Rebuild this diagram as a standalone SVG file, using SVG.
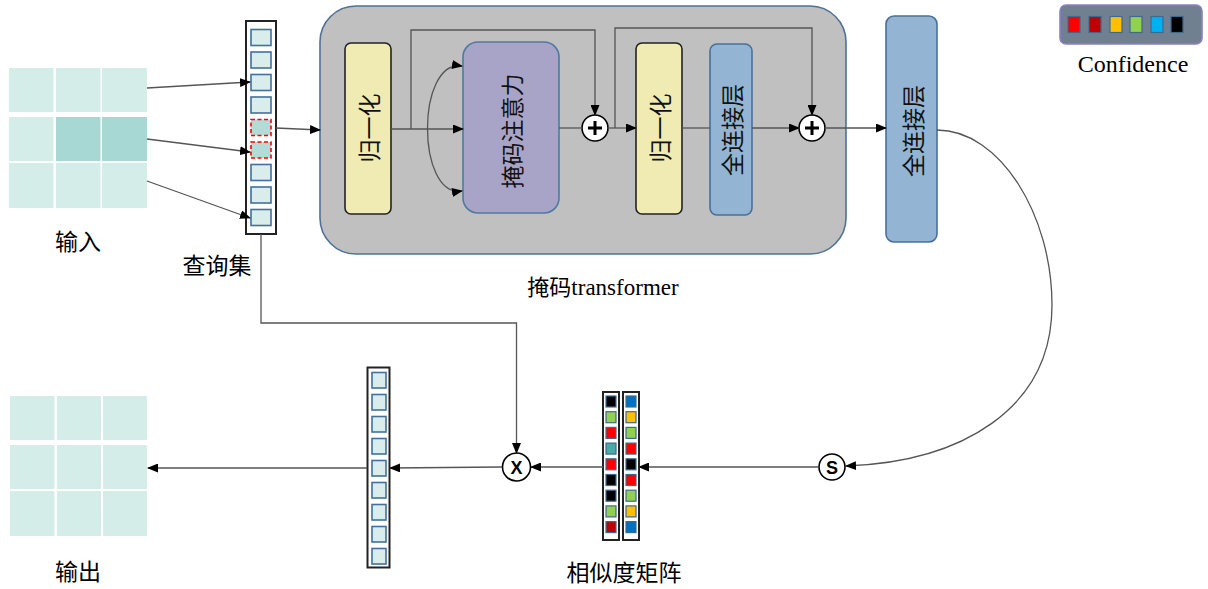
<svg xmlns="http://www.w3.org/2000/svg" width="1208" height="589" viewBox="0 0 1208 589">
<defs>
<marker id="ah" markerUnits="userSpaceOnUse" markerWidth="11" markerHeight="9" refX="10" refY="4.5" orient="auto-start-reverse" viewBox="0 0 11 9">
<path d="M0,0 L11,4.5 L0,9 z" fill="#000"/>
</marker>
<style>
.cell{fill:#d4ede9}
.cellD{fill:#a8d8d3}
.col{fill:#fff;stroke:#222;stroke-width:2}
.sq{fill:#d9eeec;stroke:#41719c;stroke-width:1.6}
.sqd{fill:#b3dcd7;stroke:#ff0000;stroke-width:1.6;stroke-dasharray:4 2.5}
.ln{fill:none;stroke:#555;stroke-width:1.3}
.arr{marker-end:url(#ah)}
.norm{fill:#efebb3;stroke:#222;stroke-width:1.6}
.fc{fill:#93b5d3;stroke:#4a7099;stroke-width:1.6}
.att{fill:#a8a4c8;stroke:#4f79a0;stroke-width:1.6}
.circ{fill:#fff;stroke:#000;stroke-width:1.6}
.plus{stroke:#000;stroke-width:3;fill:none}
.lbl{font-family:"Liberation Serif","Noto Sans CJK SC",serif;font-size:23px;fill:#000}
.vt{font-family:"Noto Sans CJK SC",sans-serif;font-size:23px;fill:#111;text-anchor:middle;dominant-baseline:central}
.ms{stroke:#3d6a8f;stroke-width:1.2}
</style>
</defs>

<g id="input">
<rect class="cell" x="9" y="68" width="44.5" height="44"/>
<rect class="cell" x="56" y="68" width="44.5" height="44"/>
<rect class="cell" x="102" y="68" width="45" height="44"/>
<rect class="cell" x="9" y="117" width="44.5" height="44"/>
<rect class="cellD" x="56" y="117" width="44.5" height="44"/>
<rect class="cellD" x="102" y="117" width="45" height="44"/>
<rect class="cell" x="9" y="163" width="44.5" height="45"/>
<rect class="cell" x="56" y="163" width="44.5" height="45"/>
<rect class="cell" x="102" y="163" width="45" height="45"/>
<text class="lbl" x="78" y="250" text-anchor="middle">输入</text>
</g>

<g id="query">
<rect class="col" x="246" y="21" width="30" height="213"/>
<rect class="sq" x="251" y="29.5" width="20" height="16"/>
<rect class="sq" x="251" y="52" width="20" height="16"/>
<rect class="sq" x="251" y="74.5" width="20" height="16"/>
<rect class="sq" x="251" y="97" width="20" height="16"/>
<rect class="sqd" x="251" y="119.5" width="20" height="16"/>
<rect class="sqd" x="251" y="142" width="20" height="16"/>
<rect class="sq" x="251" y="164.5" width="20" height="16"/>
<rect class="sq" x="251" y="187" width="20" height="16"/>
<rect class="sq" x="251" y="209.5" width="20" height="16"/>
<text class="lbl" x="217" y="274" text-anchor="middle">查询集</text>
</g>

<g id="transformer">
<rect x="320" y="6" width="526" height="248" rx="36" fill="#c0c0c0" stroke="#4f7196" stroke-width="1.6"/>
<text class="lbl" x="603" y="295" text-anchor="middle" font-size="24"><tspan font-size="22">掩码</tspan>transformer</text>
</g>

<g id="norm1">
<rect class="norm" x="345" y="43" width="46" height="171" rx="6"/>
<text class="vt" transform="translate(368,128) rotate(-90)">归一化</text>
</g>

<g id="attention">
<rect class="att" x="463" y="42" width="96" height="171" rx="15"/>
<text class="vt" transform="translate(511,131) rotate(-90)" font-size="24">掩码注意力</text>
</g>

<g id="add1">
<circle class="circ" cx="595" cy="128" r="13"/>
<path class="plus" d="M595,121 V135 M588,128 H602"/>
</g>

<g id="norm2">
<rect class="norm" x="636" y="43" width="46" height="171" rx="6"/>
<text class="vt" transform="translate(659,128) rotate(-90)">归一化</text>
</g>

<g id="fc1">
<rect class="fc" x="710" y="44" width="42" height="171" rx="7"/>
<text class="vt" transform="translate(731,130) rotate(-90)">全连接层</text>
</g>

<g id="add2">
<circle class="circ" cx="812" cy="128" r="13"/>
<path class="plus" d="M812,121 V135 M805,128 H819"/>
</g>

<g id="fc2">
<rect class="fc" x="886" y="16" width="51" height="226" rx="8"/>
<text class="vt" transform="translate(911.5,131) rotate(-90)">全连接层</text>
</g>

<g id="legend">
<rect x="1060" y="5" width="142" height="39" rx="6" fill="#708090" stroke="#8b80c4" stroke-width="1.6"/>
<rect class="ms" x="1068" y="16.5" width="12" height="16" fill="#ff0000"/>
<rect class="ms" x="1089" y="16.5" width="12" height="16" fill="#c00000"/>
<rect class="ms" x="1110" y="16.5" width="12" height="16" fill="#ffc000"/>
<rect class="ms" x="1130" y="16.5" width="12" height="16" fill="#92d050"/>
<rect class="ms" x="1151" y="16.5" width="12" height="16" fill="#00b0f0"/>
<rect class="ms" x="1171" y="16.5" width="12" height="16" fill="#000000"/>
<text x="1133" y="72" text-anchor="middle" font-family="Liberation Serif, serif" font-size="24">Confidence</text>
</g>

<g id="scircle">
<circle class="circ" cx="832" cy="467" r="13"/>
<text x="832" y="473.5" text-anchor="middle" font-family="Liberation Sans, sans-serif" font-weight="bold" font-size="18">S</text>
</g>

<g id="similarity">
<rect class="col" x="603" y="392" width="16" height="148" stroke-width="1.8"/>
<rect class="col" x="623" y="392" width="16" height="148" stroke-width="1.8"/>
<rect class="ms" x="606" y="396" width="10" height="11" fill="#000000"/>
<rect class="ms" x="606" y="411.7" width="10" height="11" fill="#92d050"/>
<rect class="ms" x="606" y="427.4" width="10" height="11" fill="#ff0000"/>
<rect class="ms" x="606" y="443.1" width="10" height="11" fill="#4aaba4"/>
<rect class="ms" x="606" y="458.8" width="10" height="11" fill="#ff0000"/>
<rect class="ms" x="606" y="474.5" width="10" height="11" fill="#000000"/>
<rect class="ms" x="606" y="490.2" width="10" height="11" fill="#000000"/>
<rect class="ms" x="606" y="505.9" width="10" height="11" fill="#92d050"/>
<rect class="ms" x="606" y="521.6" width="10" height="11" fill="#c00000"/>
<rect class="ms" x="626" y="396" width="10" height="11" fill="#0070c0"/>
<rect class="ms" x="626" y="411.7" width="10" height="11" fill="#ffc000"/>
<rect class="ms" x="626" y="427.4" width="10" height="11" fill="#92d050"/>
<rect class="ms" x="626" y="443.1" width="10" height="11" fill="#ff0000"/>
<rect class="ms" x="626" y="458.8" width="10" height="11" fill="#000000"/>
<rect class="ms" x="626" y="474.5" width="10" height="11" fill="#ff0000"/>
<rect class="ms" x="626" y="490.2" width="10" height="11" fill="#92d050"/>
<rect class="ms" x="626" y="505.9" width="10" height="11" fill="#ffc000"/>
<rect class="ms" x="626" y="521.6" width="10" height="11" fill="#0070c0"/>
<text class="lbl" x="624" y="581" text-anchor="middle">相似度矩阵</text>
</g>

<g id="xcircle">
<circle class="circ" cx="516.5" cy="467" r="14"/>
<text x="516.5" y="473.5" text-anchor="middle" font-family="Liberation Sans, sans-serif" font-weight="bold" font-size="18">X</text>
</g>

<g id="outcol">
<rect class="col" x="367.5" y="367.5" width="22" height="200"/>
<rect class="sq" x="372" y="372.5" width="14" height="15.5"/>
<rect class="sq" x="372" y="394.5" width="14" height="15.5"/>
<rect class="sq" x="372" y="416.5" width="14" height="15.5"/>
<rect class="sq" x="372" y="438.5" width="14" height="15.5"/>
<rect class="sq" x="372" y="460.5" width="14" height="15.5"/>
<rect class="sq" x="372" y="482.5" width="14" height="15.5"/>
<rect class="sq" x="372" y="504.5" width="14" height="15.5"/>
<rect class="sq" x="372" y="526.5" width="14" height="15.5"/>
<rect class="sq" x="372" y="548.5" width="14" height="15.5"/>
</g>

<g id="output">
<rect class="cell" x="10" y="396" width="44.5" height="44"/>
<rect class="cell" x="57" y="396" width="44" height="44"/>
<rect class="cell" x="103" y="396" width="44" height="44"/>
<rect class="cell" x="10" y="445" width="44.5" height="44"/>
<rect class="cell" x="57" y="445" width="44" height="44"/>
<rect class="cell" x="103" y="445" width="44" height="44"/>
<rect class="cell" x="10" y="491" width="44.5" height="45"/>
<rect class="cell" x="57" y="491" width="44" height="45"/>
<rect class="cell" x="103" y="491" width="44" height="45"/>
<text class="lbl" x="78" y="580" text-anchor="middle">输出</text>
</g>

<g id="connectors">
<path class="ln arr" d="M147,88 L250,82"/>
<path class="ln arr" d="M147,139 L250,152"/>
<path class="ln arr" d="M147,181 L250,218"/>
<path class="ln arr" d="M276,128 L320,130"/>
<path class="ln arr" d="M391,129 L463,129"/>
<path class="ln arr" d="M411,129 V30 H595 V115"/>
<path class="ln" d="M462,66 C416,59 416,198 462,191" marker-start="url(#ah)" marker-end="url(#ah)"/>
<path class="ln" d="M559,128 H582"/>
<path class="ln arr" d="M608,128 H636"/>
<path class="ln arr" d="M615,128 V28 H812 V115"/>
<path class="ln" d="M682,128 H710"/>
<path class="ln arr" d="M752,128 H799"/>
<path class="ln arr" d="M825,128 H886"/>
<path class="ln arr" d="M937,130 C1000,130 1052,215 1052,305 C1052,410 960,462 846,466"/>
<path class="ln arr" d="M818,467 H639"/>
<path class="ln arr" d="M603,467 H531"/>
<path class="ln arr" d="M261,234 V323 H516.5 V453"/>
<path class="ln arr" d="M502,467 L390,468"/>
<path class="ln arr" d="M367,468 H148"/>
</g>
</svg>
